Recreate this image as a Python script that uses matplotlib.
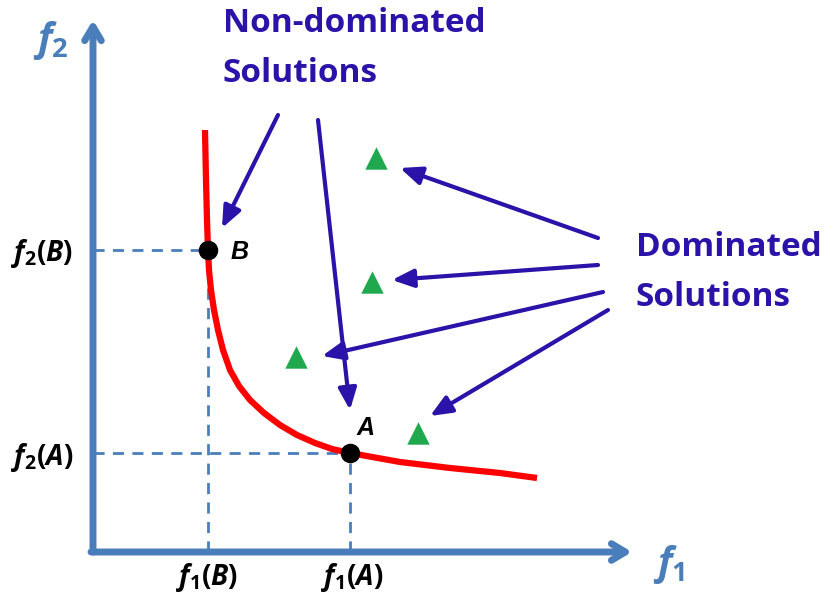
import matplotlib
matplotlib.use("Agg")
import matplotlib.pyplot as plt

plt.rcParams['mathtext.fontset'] = 'custom'
plt.rcParams['mathtext.rm'] = 'Open Sans:bold'
plt.rcParams['mathtext.it'] = 'Open Sans:bold:italic'
plt.rcParams['mathtext.bf'] = 'Open Sans:bold'

# Pareto front
front_x = [112, 113, 114, 115, 116, 118, 121, 125, 130, 137, 146, 157, 171, 187, 204, 222, 239, 257, 307, 357, 407, 444]
front_y = [422, 372, 332, 302, 282, 262, 242, 222, 202, 182, 166, 152, 139, 127, 117, 109, 103, 99, 90, 84, 79, 74]
# labelled non-dominated points
pt_names = ["B", "A"]
pt_x = [115, 257]
pt_y = [302, 99]
# dominated solutions
dom_x = [283, 279, 203, 325]
dom_y = [394, 270, 195, 119]
# annotation arrows (start -> end)
nd_arrows = [((185, 437), (129, 324)), ((225, 432), (257, 142))]
d_arrows = [((505, 314), (307, 384)), ((505, 287), (299, 272)),
            ((510, 260), (229, 196)), ((515, 242), (337, 136))]

AXC = '#4a7ebb'
DBL = '#2b12a8'
RED = '#ff0000'
GRN = '#1fa84e'

fig = plt.figure(figsize=(8.24, 6.01), dpi=100)
ax = fig.add_axes([0, 0, 1, 1])
ax.set_xlim(-93, 731)
ax.set_ylim(-49, 552)
ax.axis('off')

# axes arrows
ax.annotate('', xy=(0, 532), xytext=(0, 0),
            arrowprops=dict(arrowstyle='->,head_length=1.0,head_width=0.6', lw=5, color=AXC,
                            shrinkA=0, shrinkB=0, capstyle='round', joinstyle='round'))
ax.annotate('', xy=(539, 0), xytext=(-2, 0),
            arrowprops=dict(arrowstyle='->,head_length=1.0,head_width=0.6', lw=5, color=AXC,
                            shrinkA=0, shrinkB=0, capstyle='round', joinstyle='round'))

# dashed guides
for x, y in zip(pt_x, pt_y):
    ax.plot([0, x], [y, y], ls=(0, (4, 3)), color=AXC, lw=2, zorder=2)
    ax.plot([x, x], [0, y], ls=(0, (4, 3)), color=AXC, lw=2, zorder=2)

# front
ax.plot(front_x, front_y, color=RED, lw=4.5, solid_capstyle='butt', solid_joinstyle='round', zorder=3)
ax.scatter(pt_x, pt_y, s=170, color='black', zorder=4)

# dominated
ax.scatter(dom_x, dom_y, marker='^', s=260, color=GRN, zorder=4, linewidths=0)

for (s, e) in nd_arrows + d_arrows:
    ax.annotate('', xy=e, xytext=s,
                arrowprops=dict(arrowstyle='-|>,head_length=1.3,head_width=0.55', lw=3, color=DBL,
                                shrinkA=0, shrinkB=0))

# texts
for name, x, y, dx, dy in zip(pt_names, pt_x, pt_y, [32, 16], [-2, 25]):
    ax.text(x + dx, y + dy, name, fontsize=18, fontweight='bold', fontstyle='italic',
            family='Liberation Sans', ha='center', va='center')

ax.text(-51, 298, r'$\mathit{f_2(B)}$', fontsize=20, ha='center', va='center')
ax.text(-51, 95, r'$\mathit{f_2(A)}$', fontsize=20, ha='center', va='center')
ax.text(114, -26, r'$\mathit{f_1(B)}$', fontsize=20, ha='center', va='center')
ax.text(259, -26, r'$\mathit{f_1(A)}$', fontsize=20, ha='center', va='center')

ax.text(-42, 512, r'$\mathit{f_2}$', fontsize=28, ha='center', va='center', color=AXC)
ax.text(576, -12, r'$\mathit{f_1}$', fontsize=28, ha='center', va='center', color=AXC)

tkw = dict(fontsize=24, fontweight='bold', family='Open Sans', color=DBL, ha='left', va='center')
ax.text(130, 528, 'Non-dominated', **tkw)
ax.text(130, 478, 'Solutions', **tkw)
ax.text(543, 304, 'Dominated', **tkw)
ax.text(543, 254, 'Solutions', **tkw)

fig.savefig('out.png', dpi=100)
